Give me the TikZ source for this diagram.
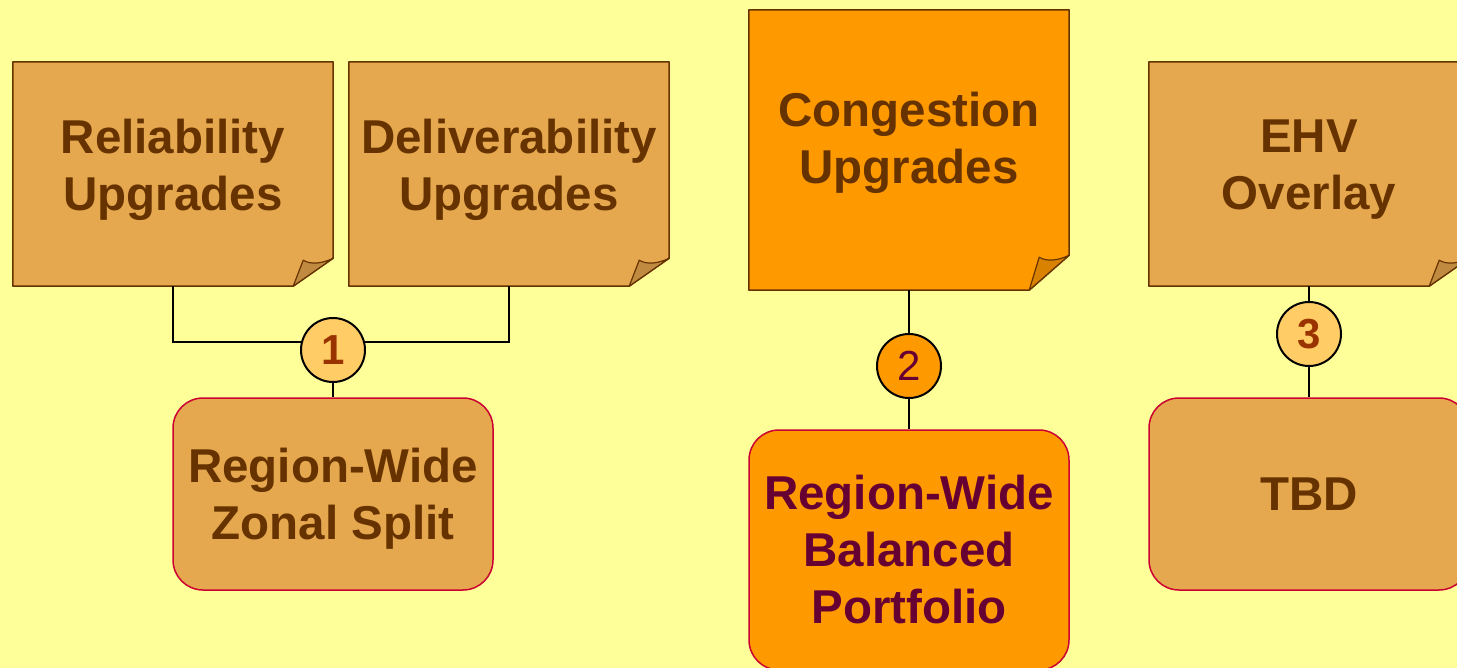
\documentclass[tikz,border=0pt]{standalone}
\usepackage{fontspec}
\setmainfont{Liberation Sans}
\usetikzlibrary{calc}
\definecolor{bgyellow}{HTML}{FFFF99}
\definecolor{notefill}{HTML}{E6A84E}
\definecolor{noteflap}{HTML}{C08A40}
\definecolor{notedark}{HTML}{663300}
\definecolor{hotfill}{HTML}{FF9900}
\definecolor{hotflap}{HTML}{D98200}
\definecolor{boxedge}{HTML}{CC0033}
\definecolor{plum}{HTML}{660033}
\definecolor{rust}{HTML}{993300}
\definecolor{dotfill}{HTML}{FFCC66}
\tikzset{
  bigtext/.style={font=\fontsize{47.5}{57}\selectfont\bfseries, align=center},
  notebox/.style={bigtext, text=notedark, minimum width=320pt, inner sep=0pt},
  noteedge/.style={draw=notedark, line width=1.5pt, line join=round},
  resultbox/.style={bigtext, draw=boxedge, line width=1.5pt, rounded corners=30pt,
    minimum width=320pt, inner sep=0pt},
  link/.style={draw=black, line width=2pt},
  badge/.style={circle, draw=black, line width=2pt, minimum size=64pt, inner sep=0pt,
    font=\fontsize{42}{42}\selectfont},
}
% folded-corner note outline, drawn around an invisible node
\newcommand{\foldnote}[4]{% node, fill, flap fill, fold height
  \fill[#2] (#1.north west) -- (#1.north east) -- ($(#1.south east)+(0,-#4)$)
    -- ($(#1.south east)+(-40,0)$) -- (#1.south west) -- cycle;
  \draw[noteedge] (#1.north west) -- (#1.north east) -- ($(#1.south east)+(0,-#4)$)
    -- ($(#1.south east)+(-40,0)$) -- (#1.south west) -- cycle;
  \draw[noteedge, fill=#3, line width=1.2pt]
    ($(#1.south east)+(-40,0)$) -- ($(#1.south east)+(-30,-#4+2)$)
    .. controls ($(#1.south east)+(-22,-#4+7)$) and ($(#1.south east)+(-10,-#4+5)$)
    .. ($(#1.south east)+(0,-#4)$) -- cycle;
}
\begin{document}
\begin{tikzpicture}[x=1pt,y=-1pt]
\useasboundingbox (0,0) rectangle (1457,668);
\clip (0,0) rectangle (1457,668);
\fill[bgyellow] (0,0) rectangle (1457,668);

% upper notes (placeholders carrying the outline)
\node[notebox, minimum height=224pt] (rel) at (173,174) {};
\node[notebox, minimum height=224pt] (del) at (509,174) {};
\node[notebox, minimum height=280pt] (cong) at (909,150) {};
\node[notebox, minimum height=224pt] (ehv) at (1309,174) {};

\foldnote{rel}{notefill}{noteflap}{28}
\foldnote{del}{notefill}{noteflap}{28}
\foldnote{cong}{hotfill}{hotflap}{35}
\foldnote{ehv}{notefill}{noteflap}{28}

\node[bigtext, text=notedark] (reltxt) at (173,170) {Reliability\\Upgrades};
\node[bigtext, text=notedark] (deltxt) at (509,170) {Deliverability\\Upgrades};
\node[bigtext, text=notedark] (congtxt) at (909,143) {Congestion\\Upgrades};
\node[bigtext, text=notedark] (ehvtxt) at (1309,170) {EHV\\Overlay};

% lower result boxes
\node[resultbox, fill=notefill, text=notedark, minimum height=192pt, text depth=0pt] (zonal) at (333,494)
  {Region-Wide\\Zonal Split};
\node[resultbox, fill=hotfill, text=plum, minimum height=240pt] (port) at (909,550)
  {Region-Wide\\Balanced\\Portfolio};
\node[resultbox, fill=notefill, text=notedark, minimum height=192pt] (tbd) at (1309,494)
  {TBD};

% connectors
\draw[link] (rel.south) -- ++(0,56) -| (del.south);
\coordinate (join1) at (333,342);
\draw[link] (join1) -- (zonal.north);
\draw[link] (cong.south) -- (port.north);
\draw[link] (ehv.south) -- (tbd.north);

% numbered badges
\node[badge, fill=dotfill, text=rust, font=\fontsize{42}{42}\selectfont\bfseries] (b1) at (333,350) {1};
\node[badge, fill=hotfill, text=plum] (b2) at (909,366) {2};
\node[badge, fill=dotfill, text=rust, font=\fontsize{42}{42}\selectfont\bfseries] (b3) at (1309,334) {3};
\end{tikzpicture}
\end{document}
